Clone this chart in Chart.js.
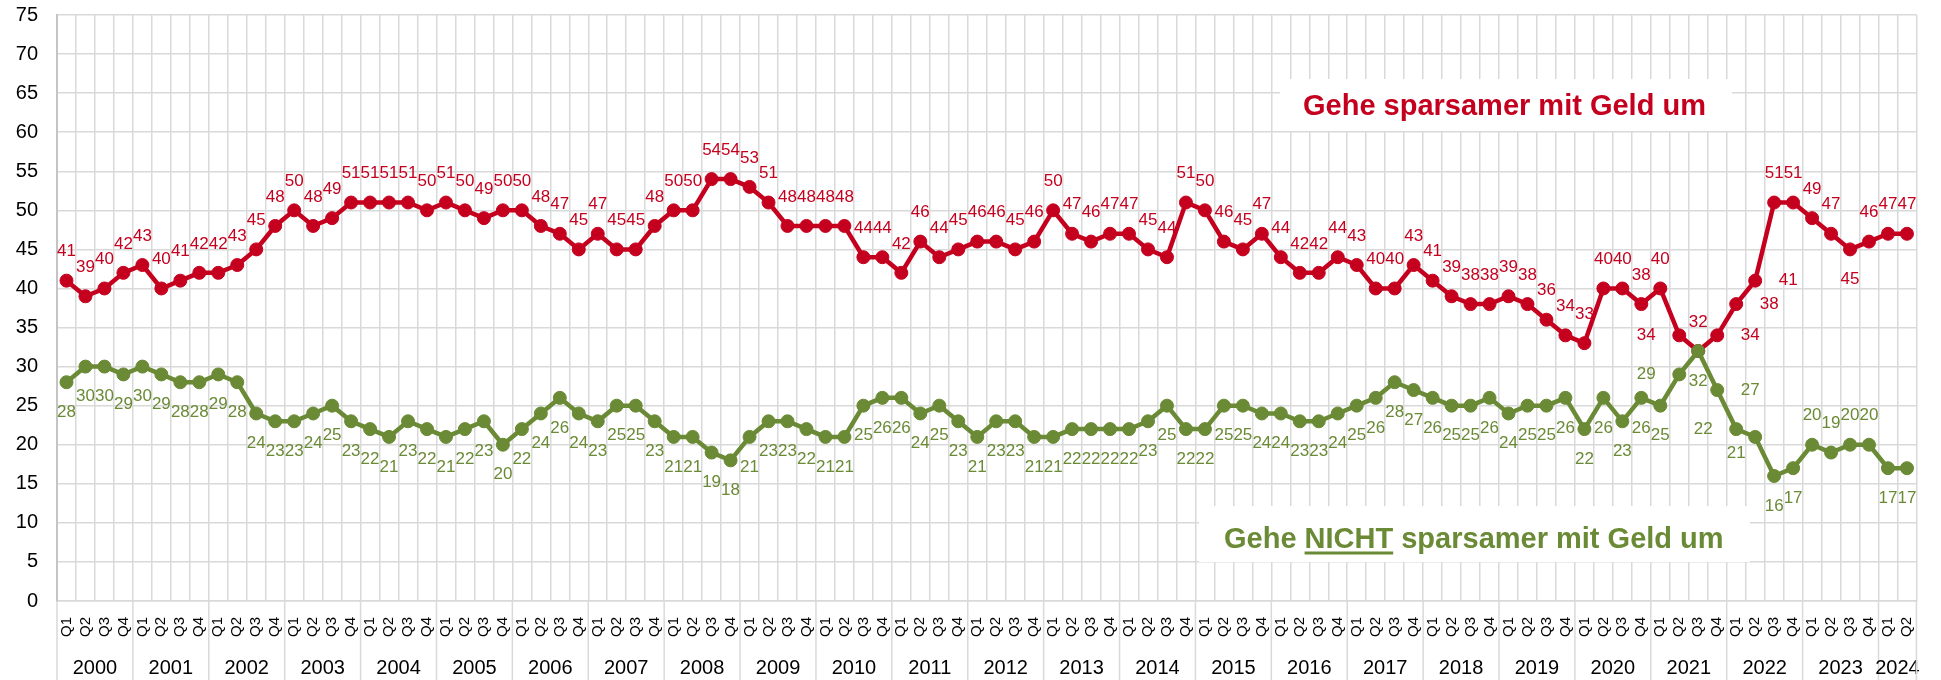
<!DOCTYPE html>
<html>
<head>
<meta charset="utf-8">
<script src="https://cdn.jsdelivr.net/npm/chart.js@4.4.1/dist/chart.umd.min.js"></script>
<style>
  html, body { margin: 0; padding: 0; background: #fff; }
  #wrap { width: 1941px; height: 680px; }
</style>
</head>
<body>
<div id="wrap"><canvas id="sparChart" width="1941" height="680"></canvas></div>
<script>
// Daten (Quartale 2000 Q1 bis 2024 Q2)
const years = ['2000', '2001', '2002', '2003', '2004', '2005', '2006', '2007', '2008', '2009', '2010', '2011',
  '2012', '2013', '2014', '2015', '2016', '2017', '2018', '2019', '2020', '2021', '2022', '2023', '2024'];
const quarters = ['Q1', 'Q2', 'Q3', 'Q4'];

const sparsamer = [
  41, 39, 40, 42,  43, 40, 41, 42,  42, 43, 45, 48,  50, 48, 49, 51,  51, 51, 51, 50,
  51, 50, 49, 50,  50, 48, 47, 45,  47, 45, 45, 48,  50, 50, 54, 54,  53, 51, 48, 48,
  48, 48, 44, 44,  42, 46, 44, 45,  46, 46, 45, 46,  50, 47, 46, 47,  47, 45, 44, 51,
  50, 46, 45, 47,  44, 42, 42, 44,  43, 40, 40, 43,  41, 39, 38, 38,  39, 38, 36, 34,
  33, 40, 40, 38,  40, 34, 32, 34,  38, 41, 51, 51,  49, 47, 45, 46,  47, 47
];
const nichtSparsamer = [
  28, 30, 30, 29,  30, 29, 28, 28,  29, 28, 24, 23,  23, 24, 25, 23,  22, 21, 23, 22,
  21, 22, 23, 20,  22, 24, 26, 24,  23, 25, 25, 23,  21, 21, 19, 18,  21, 23, 23, 22,
  21, 21, 25, 26,  26, 24, 25, 23,  21, 23, 23, 21,  21, 22, 22, 22,  22, 23, 25, 22,
  22, 25, 25, 24,  24, 23, 23, 24,  25, 26, 28, 27,  26, 25, 25, 26,  24, 25, 25, 26,
  22, 26, 23, 26,  25, 29, 32, 27,  22, 21, 16, 17,  20, 19, 20, 20,  17, 17
];

const yMin = 0, yMax = 75, yStep = 5;

const rot = '#c5001f';
const gruen = '#6a8a35';
const gitter = '#d9d9d9';
const schrift = '"Liberation Sans", Arial, sans-serif';

// Kategorien (Quartal) und zugehöriges Jahr
const kategorien = [];
const jahrJeKategorie = [];
years.forEach(j => {
  quarters.forEach(q => {
    if (kategorien.length < sparsamer.length) {
      kategorien.push(q);
      jahrJeKategorie.push(j);
    }
  });
});

// Lage der Wertebeschriftung (abweichend vom Standard)
const versatz = { oben: [0, -29], unten: [0, 30], links: [-33, 0], rechts: [33, 0], linksUnten: [-19, 16] };
const labelLage = [
  { standard: 'oben', 85: 'links', 87: 'rechts', 88: 'rechts', 89: 'rechts', 94: 'unten' },
  { standard: 'unten', 85: 'links', 87: 'rechts', 88: 'links', 89: 'linksUnten', 92: 'oben', 93: 'oben', 94: 'oben', 95: 'oben' }
];

const werteBeschriftung = {
  id: 'werteBeschriftung',
  afterDatasetsDraw(chart) {
    const ctx = chart.ctx;
    ctx.save();
    ctx.font = '17px ' + schrift;
    ctx.textAlign = 'center';
    ctx.textBaseline = 'middle';
    chart.data.datasets.forEach((ds, di) => {
      const meta = chart.getDatasetMeta(di);
      const lagen = labelLage[di];
      ctx.fillStyle = ds.borderColor;
      meta.data.forEach((pt, i) => {
        const [dx, dy] = versatz[lagen[i] || lagen.standard];
        ctx.fillText(String(ds.data[i]), pt.x + dx, pt.y + dy);
      });
    });
    ctx.restore();
  }
};

// Textfelder mit weißem Hintergrund
const hinweise = {
  id: 'hinweise',
  beforeDatasetsDraw(chart) {
    const ctx = chart.ctx;
    ctx.save();
    ctx.fillStyle = '#fff';
    ctx.fillRect(1280, 79, 452, 52);
    ctx.fillRect(1199, 506, 551, 56);

    ctx.font = 'bold 29px ' + schrift;
    ctx.textBaseline = 'alphabetic';
    ctx.textAlign = 'left';
    ctx.fillStyle = rot;
    ctx.fillText('Gehe sparsamer mit Geld um', 1303, 115);

    ctx.fillStyle = gruen;
    ctx.strokeStyle = gruen;
    let x = 1224;
    const y = 548;
    ['Gehe ', 'NICHT', ' sparsamer mit Geld um'].forEach((t, i) => {
      const w = ctx.measureText(t).width;
      ctx.fillText(t, x, y);
      if (i === 1) {
        ctx.lineWidth = 3;
        ctx.beginPath();
        ctx.moveTo(x, y + 5);
        ctx.lineTo(x + w, y + 5);
        ctx.stroke();
      }
      x += w;
    });
    ctx.restore();
  }
};

// Jahreszeile unter den Quartalen
const jahresAchse = {
  id: 'jahresAchse',
  afterDraw(chart) {
    const sx = chart.scales.x;
    const ctx = chart.ctx;
    const breite = (sx.right - sx.left) / kategorien.length;
    ctx.save();
    ctx.strokeStyle = gitter;
    ctx.lineWidth = 1.5;
    ctx.fillStyle = '#000';
    ctx.font = '20px ' + schrift;
    ctx.textAlign = 'center';
    ctx.textBaseline = 'middle';
    years.forEach(j => {
      const erster = jahrJeKategorie.indexOf(j);
      const letzter = jahrJeKategorie.lastIndexOf(j);
      const x0 = sx.getPixelForValue(erster) - breite / 2;
      const x1 = sx.getPixelForValue(letzter) + breite / 2;
      ctx.beginPath();
      ctx.moveTo(x0, sx.top);
      ctx.lineTo(x0, chart.height);
      ctx.stroke();
      ctx.fillText(j, (x0 + x1) / 2, 668);
    });
    ctx.beginPath();
    ctx.moveTo(sx.right, sx.top);
    ctx.lineTo(sx.right, chart.height);
    ctx.stroke();
    ctx.restore();
  }
};

Chart.defaults.font.family = schrift;
Chart.defaults.color = '#000';

new Chart(document.getElementById('sparChart'), {
  type: 'line',
  data: {
    labels: kategorien,
    datasets: [{
      label: 'Gehe sparsamer mit Geld um',
      data: sparsamer,
      borderColor: rot,
      backgroundColor: rot,
      pointBackgroundColor: rot,
      pointBorderColor: rot,
      borderWidth: 4.5,
      pointRadius: 6.5,
      pointBorderWidth: 1,
      tension: 0,
      order: 1
    }, {
      label: 'Gehe NICHT sparsamer mit Geld um',
      data: nichtSparsamer,
      borderColor: gruen,
      backgroundColor: gruen,
      pointBackgroundColor: gruen,
      pointBorderColor: gruen,
      borderWidth: 4.5,
      pointRadius: 6.5,
      pointBorderWidth: 1,
      tension: 0,
      order: 0
    }]
  },
  options: {
    responsive: false,
    animation: false,
    layout: { padding: { top: 15, right: 4, left: 0, bottom: 0 } },
    plugins: {
      legend: { display: false },
      tooltip: { enabled: false }
    },
    scales: {
      x: {
        offset: true,
        grid: { offset: true, color: gitter, lineWidth: 1.5, drawTicks: false },
        border: { color: gitter, width: 1.5 },
        ticks: {
          autoSkip: false,
          minRotation: 90,
          maxRotation: 90,
          padding: 16,
          font: { size: 15 }
        },
        afterFit(scale) { scale.height = 79; }
      },
      y: {
        min: yMin,
        max: yMax,
        grid: { color: gitter, lineWidth: 1.5, drawTicks: true, tickLength: 19, tickColor: 'rgba(0,0,0,0)' },
        border: { color: '#c4c4c4', width: 2 },
        ticks: { stepSize: yStep, padding: 0, font: { size: 20 } },
        afterFit(scale) { scale.width = 57; }
      }
    }
  },
  plugins: [hinweise, werteBeschriftung, jahresAchse]
});
</script>
</body>
</html>
